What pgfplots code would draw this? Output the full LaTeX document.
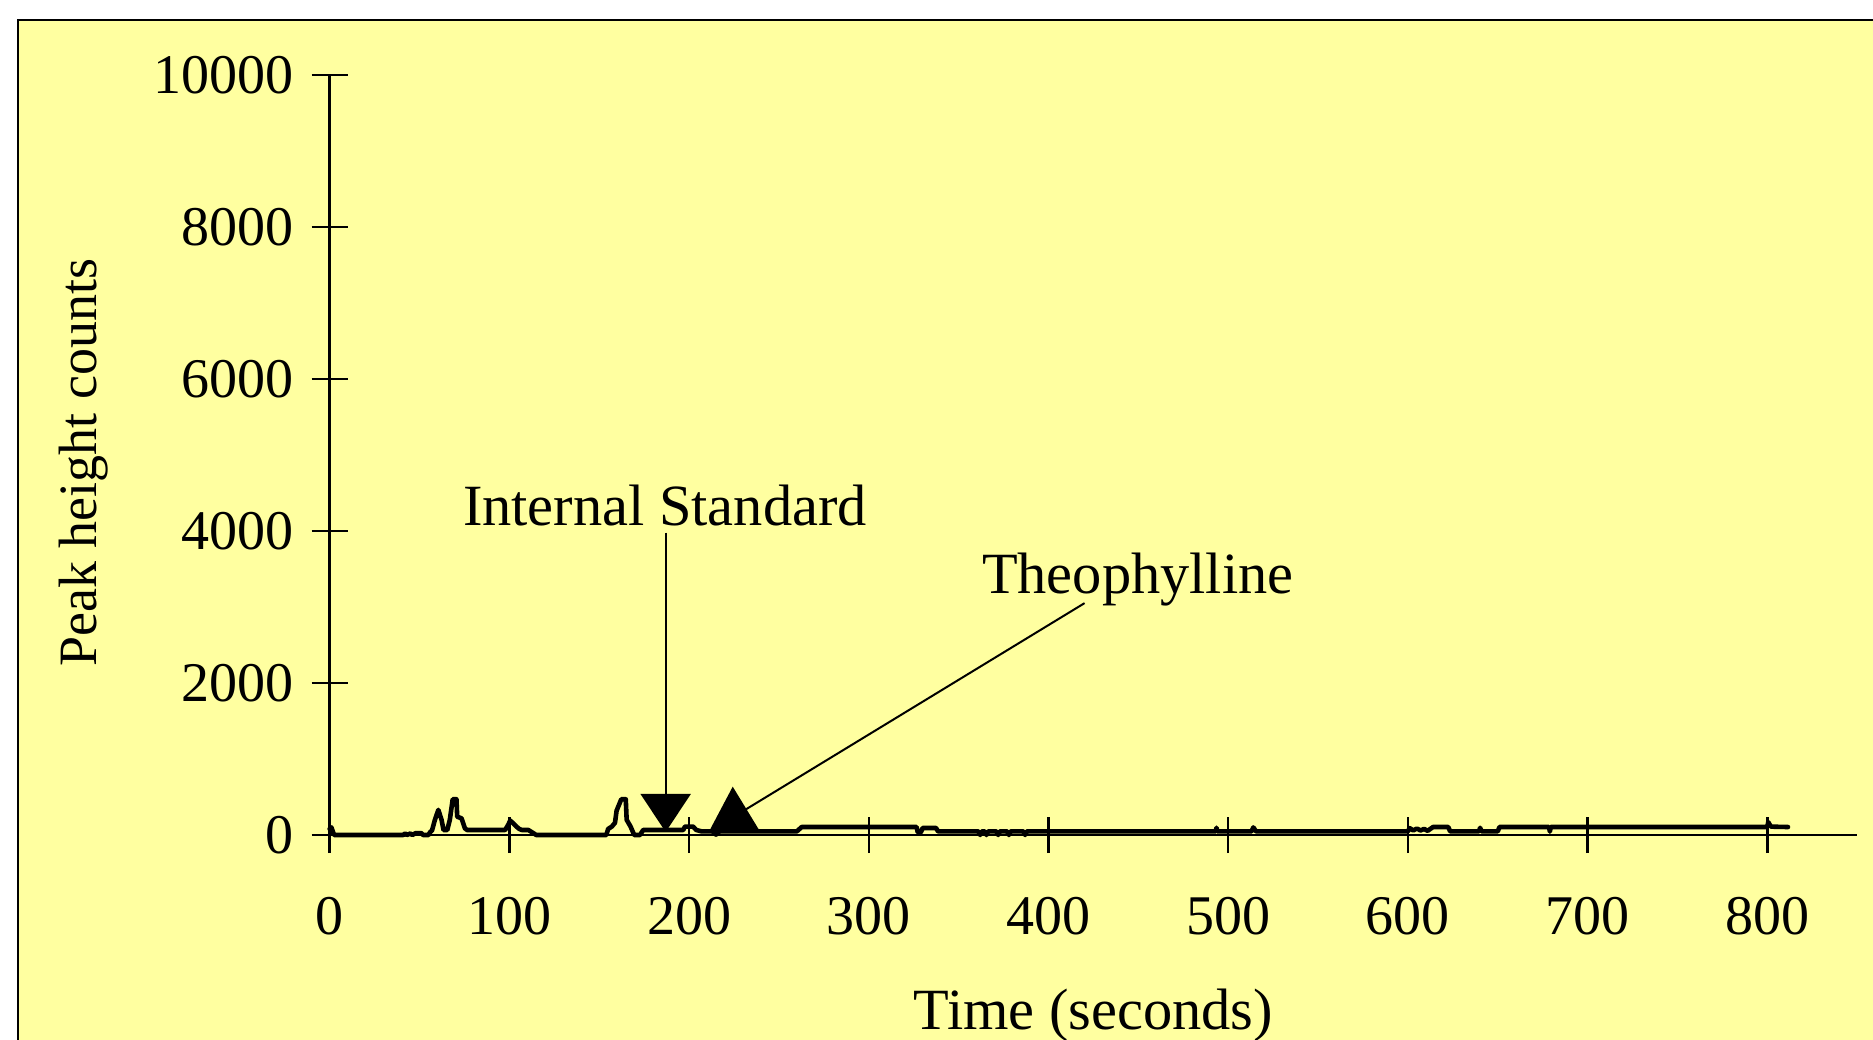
\documentclass[border=0pt]{standalone}
\usepackage{fontspec}
\setmainfont{Liberation Serif}
\usepackage{pgfplots}
\pgfplotsset{compat=1.18}
\usetikzlibrary{arrows.meta}
\definecolor{panel}{RGB}{255,255,160}

\begin{document}
\begin{tikzpicture}
\begin{scope}
\clip (0,0) rectangle (468.25pt,259.75pt);
\fill[white] (0,0) rectangle (468.25pt,259.75pt);
\fill[panel] (4.5pt,-5pt) rectangle (475pt,254.75pt);
\draw[line width=0.6pt] (4.5pt,-5pt) -- (4.5pt,254.75pt) -- (475pt,254.75pt);
\end{scope}
\begin{axis}[
    at={(82.4pt,51pt)}, anchor=south west,
    scale only axis,
    width=381.9pt, height=190pt,
    xmin=0, xmax=850,
    ymin=0, ymax=10000,
    axis x line=bottom, axis y line=left,
    axis line style={-, line width=0.6pt},
    xtick={0,100,...,800},
    ytick={0,2000,...,10000},
    tick align=center,
    major tick length=9pt,
    every tick/.style={black, line width=0.6pt},
    scaled y ticks=false,
    /pgf/number format/.cd, 1000 sep={}, assume math mode=true,
    /pgfplots/.cd,
    tick label style={font=\fontsize{14}{16}\selectfont},
    xticklabel style={anchor=north, inner sep=0pt, yshift=-10.9pt},
    yticklabel style={anchor=east, inner sep=0pt, xshift=-4.2pt},
    xlabel={Time (seconds)},
    ylabel={Peak height counts},
    xlabel style={font=\fontsize{14.6}{17}\selectfont, at={(axis description cs:0.5,0)}, anchor=center, yshift=-45pt},
    ylabel style={font=\fontsize{13.5}{16}\selectfont, at={(axis description cs:0,0.49)}, anchor=center, yshift=61.4pt},
    clip=false,
]
\addplot[black, line width=1.15pt, line join=round, line cap=round] coordinates {
(0,80)(1,100)(2.5,0)(41,0)(42,20)(43,0)(45,20)(46,0)(48,25)(51,25)(52,0)(55,0)(56,40)(57,60)
(58.6,200)(60.5,330)(62.3,200)(63.4,66)(65.5,66)(66.9,200)(68.5,470)(70.6,470)(71,240)(73.4,220)
(75.3,88)(76.5,66)(97.7,66)(99.5,140)(100.5,190)(102.3,150)(104,110)(105.5,80)(107,66)(110.6,66)
(113,30)(115,0)(154,0)(155,80)(157,110)(158.8,160)(159.7,320)(162.3,470)(164.8,470)(165.3,200)
(167.5,110)(169.5,0)(172.7,0)(174.5,66)(196.8,66)(197.7,110)(202.3,110)(204,66)(207,48)(213,48)
(215,5)(217,48)(260,48)(262.7,105)(326.6,105)(327.3,35)(329,35)(330,92)(337.5,92)(338.5,48)
(361,48)(362,0)(363,48)(364.5,48)(365.5,0)(366.5,48)(371,48)(372,0)(373,48)(377,48)(378,0)(379,48)
(386,48)(387,0)(388,48)(493,48)(493.5,95)(494,48)(513,48)(514,100)(515.5,48)(600,48)(601,90)
(603,60)(605,85)(607,60)(609,80)(611,55)(614,105)(622.5,105)(623.5,48)(639.5,48)(640.2,95)(641,48)
(650,48)(651,105)(678.5,105)(679,45)(679.5,105)(800,105)(800.5,170)(802,110)(811.5,105)
};
% annotations
\node[anchor=base, font=\fontsize{14.6}{17}\selectfont, inner sep=0pt] at (axis cs:186.6,4067) {Internal Standard};
\draw[line width=0.5pt, -{Triangle[length=9.5pt,width=12.5pt]}] (axis cs:187,3980) -- (axis cs:187,40);
\node[anchor=base, font=\fontsize{14.6}{17}\selectfont, inner sep=0pt] at (axis cs:449.7,3175) {Theophylline};
\draw[line width=0.5pt, -{Triangle[length=11pt,width=13pt]}] (axis cs:420.1,3051) -- (axis cs:211,40);
\end{axis}
\pgfresetboundingbox
\path[use as bounding box] (0,0) rectangle (468.25pt,259.75pt);
\end{tikzpicture}
\end{document}
